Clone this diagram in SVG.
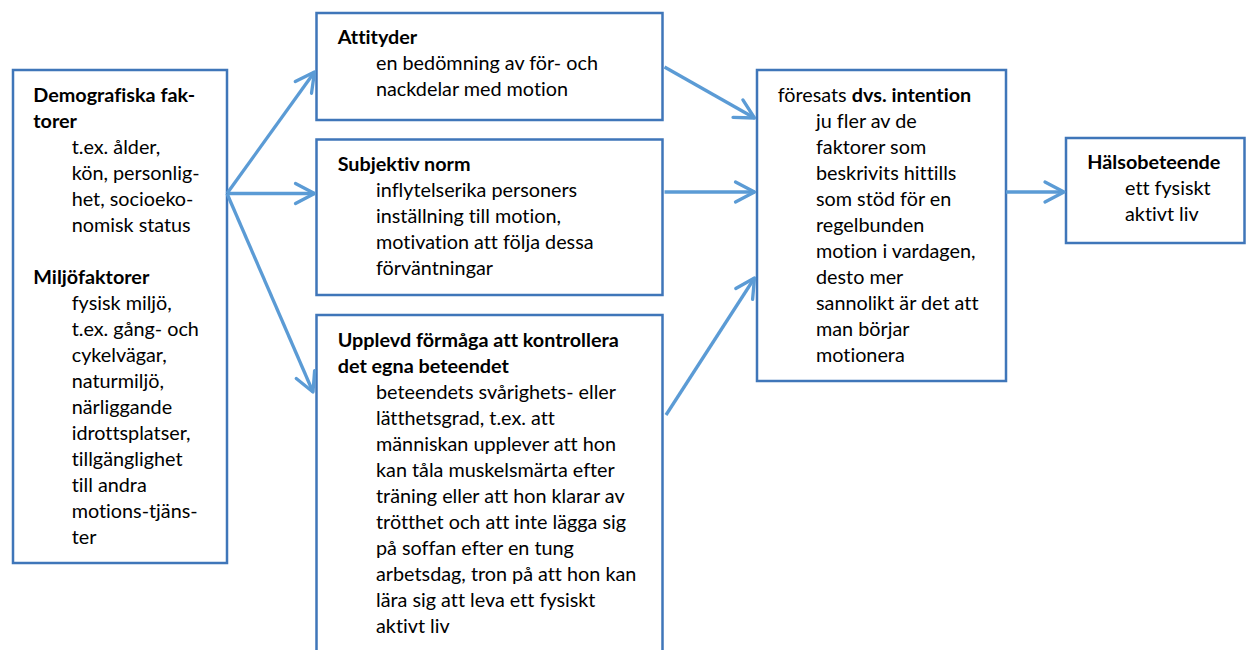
<svg xmlns="http://www.w3.org/2000/svg" width="1246" height="650" viewBox="0 0 1246 650">
<style>
.box{fill:#fff;stroke:#3f76b9;stroke-width:2.5}
text{font-family:Lato,"Liberation Sans",sans-serif;font-size:19.8px;fill:#000;font-variant-ligatures:none}
.b{font-weight:bold}
.c{fill:none;stroke:#5b9bd5;stroke-width:3.3;marker-end:url(#ah)}
</style>
<defs>
<marker id="ah" markerUnits="userSpaceOnUse" markerWidth="30" markerHeight="30" viewBox="-25 -15 30 30" refX="0" refY="0" orient="auto">
<path d="M-19,-10 L0,0 L-19,10" fill="none" stroke="#5b9bd5" stroke-width="3.3" stroke-linecap="round" stroke-linejoin="round"/>
</marker>
</defs>
<rect width="1246" height="650" fill="#fff"/>
<g id="n-demografi">
<rect class="box" x="13" y="70" width="214" height="493"/>
<text class="b" x="33.3" y="101.7">Demografiska fak-</text>
<text class="b" x="33.3" y="127.7">torer</text>
<text x="71.7" y="153.7">t.ex. ålder,</text>
<text x="71.7" y="179.7">kön, personlig-</text>
<text x="71.7" y="205.7">het, socioeko-</text>
<text x="71.7" y="231.7">nomisk status</text>
<text class="b" x="33.3" y="283.7">Miljöfaktorer</text>
<text x="71.7" y="309.7">fysisk miljö,</text>
<text x="71.7" y="335.7">t.ex. gång- och</text>
<text x="71.7" y="361.7">cykelvägar,</text>
<text x="71.7" y="387.7">naturmiljö,</text>
<text x="71.7" y="413.7">närliggande</text>
<text x="71.7" y="439.7">idrottsplatser,</text>
<text x="71.7" y="465.7">tillgänglighet</text>
<text x="71.7" y="491.7">till andra</text>
<text x="71.7" y="517.7">motions-tjäns-</text>
<text x="71.7" y="543.7">ter</text>
</g>
<g id="n-attityder">
<rect class="box" x="316.5" y="13" width="346" height="107"/>
<text class="b" x="337.7" y="44">Attityder</text>
<text x="376" y="70">en bedömning av för- och</text>
<text x="376" y="96">nackdelar med motion</text>
</g>
<g id="n-subjektiv">
<rect class="box" x="316.5" y="139.5" width="346" height="155.5"/>
<text class="b" x="337.7" y="171">Subjektiv norm</text>
<text x="376" y="197">inflytelserika personers</text>
<text x="376" y="223">inställning till motion,</text>
<text x="376" y="249">motivation att följa dessa</text>
<text x="376" y="275">förväntningar</text>
</g>
<g id="n-upplevd">
<rect class="box" x="316.5" y="315" width="346" height="360"/>
<text class="b" x="337.7" y="346.7">Upplevd förmåga att kontrollera</text>
<text class="b" x="337.7" y="372.7">det egna beteendet</text>
<text x="376" y="398.7">beteendets svårighets- eller</text>
<text x="376" y="424.7">lätthetsgrad, t.ex. att</text>
<text x="376" y="450.7">människan upplever att hon</text>
<text x="376" y="476.7">kan tåla muskelsmärta efter</text>
<text x="376" y="502.7">träning eller att hon klarar av</text>
<text x="376" y="528.7">trötthet och att inte lägga sig</text>
<text x="376" y="554.7">på soffan efter en tung</text>
<text x="376" y="580.7">arbetsdag, tron på att hon kan</text>
<text x="376" y="606.7">lära sig att leva ett fysiskt</text>
<text x="376" y="632.7">aktivt liv</text>
</g>
<g id="n-intention">
<rect class="box" x="757" y="70" width="249" height="311"/>
<text x="777.7" y="101.7">föresats <tspan class="b">dvs. intention</tspan></text>
<text x="816" y="127.7">ju fler av de</text>
<text x="816" y="153.7">faktorer som</text>
<text x="816" y="179.7">beskrivits hittills</text>
<text x="816" y="205.7">som stöd för en</text>
<text x="816" y="231.7">regelbunden</text>
<text x="816" y="257.7">motion i vardagen,</text>
<text x="816" y="283.7">desto mer</text>
<text x="816" y="309.7">sannolikt är det att</text>
<text x="816" y="335.7">man börjar</text>
<text x="816" y="361.7">motionera</text>
</g>
<g id="n-halsobeteende">
<rect class="box" x="1066" y="138" width="178.5" height="105"/>
<text class="b" x="1087.3" y="169">Hälsobeteende</text>
<text x="1125" y="195">ett fysiskt</text>
<text x="1125" y="221">aktivt liv</text>
</g>
<g id="connectors">
<line class="c" x1="227" y1="193.5" x2="314.5" y2="72"/>
<line class="c" x1="227" y1="193.5" x2="314.5" y2="193.5"/>
<line class="c" x1="227" y1="193.5" x2="313" y2="392"/>
<line class="c" x1="664.5" y1="67" x2="754.5" y2="118"/>
<line class="c" x1="664.5" y1="192" x2="754.5" y2="192"/>
<line class="c" x1="666" y1="415" x2="754.5" y2="278"/>
<line class="c" x1="1006" y1="192" x2="1064" y2="192"/>
</g>
</svg>
